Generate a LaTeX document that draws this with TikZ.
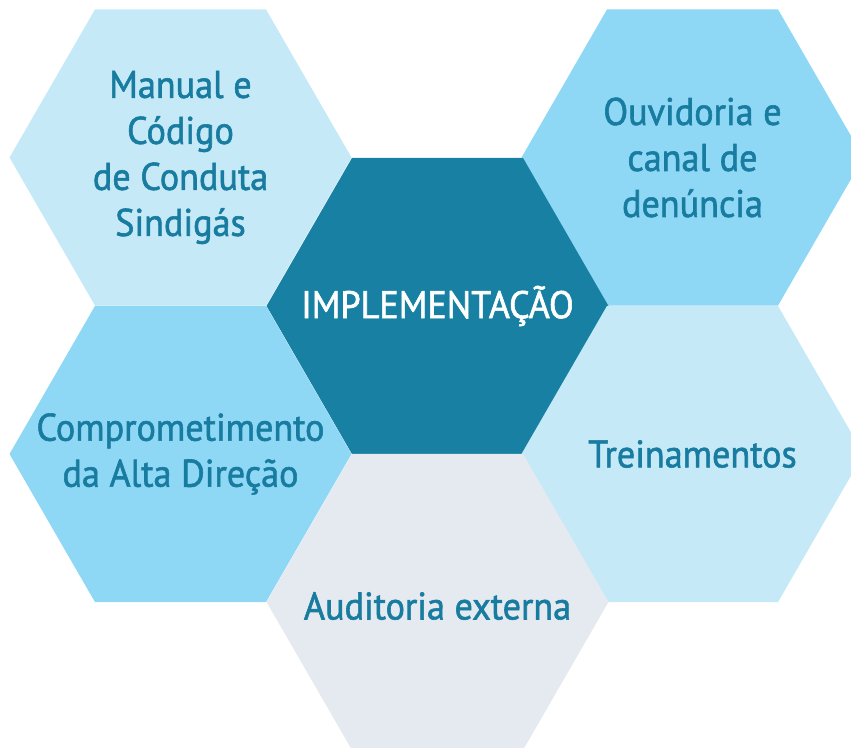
\documentclass[tikz,border=0pt]{standalone}
\usepackage{fontspec}
\setmainfont{PT Sans}[FakeStretch=0.94,FakeBold=1.5]
\usepackage{tikz}
\usetikzlibrary{shapes.geometric}
\definecolor{hexlight}{RGB}{198,233,248}
\definecolor{hexmid}{RGB}{142,216,245}
\definecolor{hexdark}{RGB}{24,129,163}
\definecolor{hexgray}{RGB}{228,234,239}
\definecolor{hextext}{RGB}{24,124,160}
\tikzstyle{hexcell}=[regular polygon,regular polygon sides=6,minimum size=342pt,inner sep=0pt,outer sep=0pt]
\tikzstyle{hexlabel}=[align=center,text=hextext,font=\fontsize{38.5}{46}\selectfont]
\begin{document}
\begin{tikzpicture}[x=1pt,y=-1pt]
    \useasboundingbox (0,0) rectangle (851,747);
    \clip (0,0) rectangle (851,747);
    % honeycomb
    \node[hexcell,fill=hexlight] (manual)  at (180.5,157.5) {};
    \node[hexcell,fill=hexmid]   (ouvid)   at (692.5,157.5) {};
    \node[hexcell,fill=hexdark]  (impl)    at (437.5,306)   {};
    \node[hexcell,fill=hexmid]   (compr)   at (180.5,454)   {};
    \node[hexcell,fill=hexlight] (trein)   at (692.5,454)   {};
    \node[hexcell,fill=hexgray]  (audit)   at (437.5,602)   {};
    % labels
    \node[hexlabel] (tmanual) at (manual) {Manual e\\Código\\de Conduta\\Sindigás};
    \node[hexlabel] (touvid)  at (ouvid)  {Ouvidoria e\\canal de\\denúncia};
    \node[hexlabel,text=white] (timpl) at (impl) {IMPLEMENTAÇÃO};
    \node[hexlabel] (tcompr)  at (compr)  {Comprometimento\\da Alta Direção};
    \node[hexlabel] (ttrein)  at (trein)  {Treinamentos};
    \node[hexlabel] (taudit)  at ([yshift=-4pt]audit.center) {Auditoria externa};
\end{tikzpicture}
\end{document}
